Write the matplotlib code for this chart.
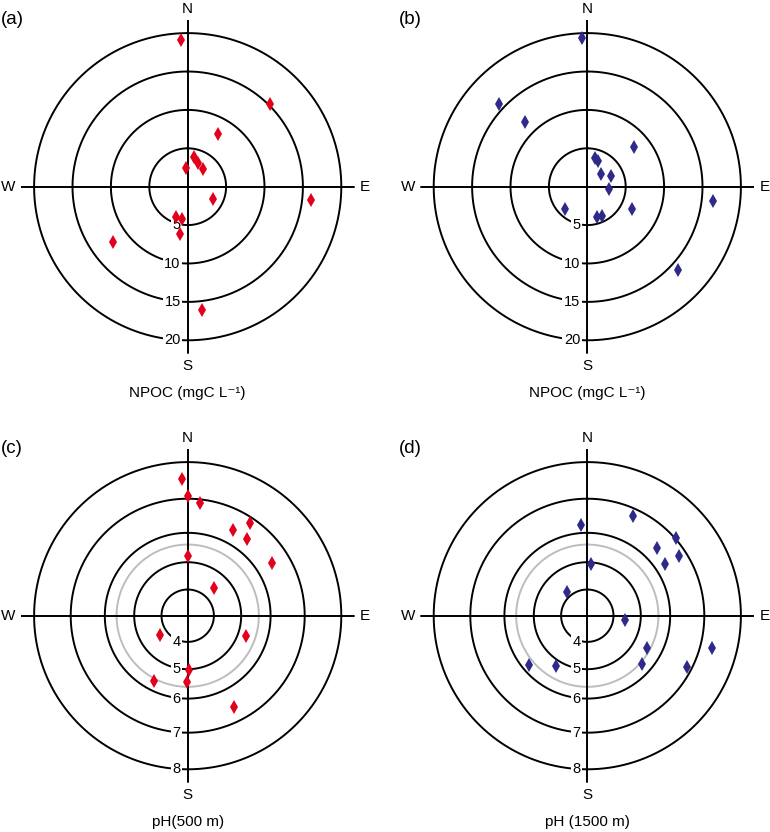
import numpy as np
import matplotlib
matplotlib.use("Agg")
import matplotlib.pyplot as plt

plt.rcParams['font.family'] = ['Liberation Sans', 'DejaVu Sans']

# ---------------- data (bearing in degrees clockwise from N, value) ----------------
a_dir = [357.4, 44.9, 29.8, 12.1, 24.4, 40.8, 355.0, 116.9, 96.3, 201.4, 189.3, 189.1, 233.4, 173.3]
a_npoc = [19.1, 15.2, 7.85, 3.9, 3.35, 3.0, 2.5, 3.65, 16.2, 4.3, 4.3, 6.3, 12.15, 16.1]

b_dir = [358.1, 312.9, 315.9, 49.6, 15.7, 22.0, 48.0, 64.8, 96.8, 116.7, 96.3, 224.6, 161.9, 153.8, 132.7]
b_npoc = [19.4, 15.75, 11.7, 7.95, 3.85, 3.6, 2.4, 3.37, 2.85, 6.47, 16.5, 4.15, 4.19, 4.25, 16.0]

c_dir = [357.6, 0.0, 6.2, 33.8, 27.7, 37.5, 58.3, 0.0, 43.6, 235.0, 109.2, 179.0, 180.3, 207.3, 153.2]
c_ph = [7.53, 7.07, 6.90, 6.85, 6.41, 6.41, 6.49, 5.21, 4.46, 4.28, 5.28, 5.02, 5.42, 5.67, 6.58]

d_dir = [24.7, 355.8, 48.7, 45.6, 57.0, 56.5, 4.1, 318.5, 96.6, 118.6, 131.9, 104.7, 117.0, 212.3, 229.6]
d_ph = [6.80, 6.23, 7.03, 6.42, 6.79, 6.31, 4.94, 4.18, 4.43, 5.50, 5.66, 7.33, 6.86, 5.19, 5.77]

npoc_ticks = [5, 10, 15, 20]
ph_ticks = [4, 5, 6, 7, 8]
ph_ref = 5.6

panel_labels = ['(a)', '(b)', '(c)', '(d)']
x_labels = ['NPOC (mgC L\u207b\u00b9)', 'NPOC (mgC L\u207b\u00b9)', 'pH(500 m)', 'pH (1500 m)']

# ---------------- radial scale for pH rings (non-linear ring spacing) ----------------
PH_K = np.array([0.0, 3.0, 4.0, 5.0, 6.0, 7.0, 8.0, 9.0, 14.0])
PX_K = np.array([-80.0, 0.0, 26.2, 53.5, 82.9, 117.0, 153.6, 192.0, 384.0])

def ph_fwd(v):
    return np.interp(np.asarray(v, dtype=float), PH_K, PX_K)

def ph_inv(p):
    return np.interp(np.asarray(p, dtype=float), PX_K, PH_K)

# ---------------- figure ----------------
W, H = 770, 832
fig = plt.figure(figsize=(W / 100, H / 100), dpi=100)
R = 167.0
centers = [(187.7, 186.7), (587.3, 186.7), (187.7, 615.7), (587.3, 615.7)]
red = '#e3001b'
blue = '#2f2a8a'

panels = [
    (a_dir, a_npoc, red, 'npoc'),
    (b_dir, b_npoc, blue, 'npoc'),
    (c_dir, c_ph, red, 'ph'),
    (d_dir, d_ph, blue, 'ph'),
]

theta_full = np.linspace(0, 2 * np.pi, 721)

for i, (dirs, vals, col, kind) in enumerate(panels):
    cx, cy = centers[i]
    ax = fig.add_axes([(cx - R) / W, (H - cy - R) / H, 2 * R / W, 2 * R / H],
                      projection='polar')
    ax.set_theta_zero_location('N')
    ax.set_theta_direction(-1)
    if kind == 'npoc':
        ticks = npoc_ticks
        rmin, rmax = 0.0, 20.0 * R / 153.6
        ax.set_rlim(rmin, rmax)
    else:
        ticks = ph_ticks
        ax.set_rscale('function', functions=(ph_fwd, ph_inv))
        rmin, rmax = 3.0, float(ph_inv(R))
        ax.set_rlim(rmin, rmax)
    ax.grid(False)
    ax.set_xticks([])
    ax.set_yticks([])
    ax.spines['polar'].set_visible(False)
    ax.patch.set_alpha(0)

    # rings
    for t in ticks:
        ax.plot(theta_full, np.full_like(theta_full, t), color='black', lw=1.4, zorder=2)
    if kind == 'ph':
        ax.plot(theta_full, np.full_like(theta_full, ph_ref), color='#bdbdbd', lw=1.4, zorder=1.9)

    # crosshair
    for th in [0, np.pi / 2, np.pi, 3 * np.pi / 2]:
        ax.plot([th, th], [rmin, rmax], color='black', lw=1.4, zorder=4,
                solid_capstyle='butt')

    # ring labels along the south axis
    for t in ticks:
        ax.annotate(str(t), xy=(np.pi, t), xytext=(-7, 0), textcoords='offset pixels',
                    ha='right', va='center', fontsize=10.5, zorder=3,
                    bbox=dict(facecolor='white', edgecolor='none', pad=1.2),
                    annotation_clip=False)

    # points
    ax.plot(np.deg2rad(dirs), vals, linestyle='none', marker='d', markersize=6.8,
            markerfacecolor=col, markeredgewidth=0, zorder=5, clip_on=False)

    # compass letters
    ax.text(0.5, 1 + 11.0 / (2 * R), 'N', transform=ax.transAxes, ha='center', va='center', fontsize=11)
    ax.text(0.5, -12.5 / (2 * R), 'S', transform=ax.transAxes, ha='center', va='center', fontsize=11)
    ax.text(-5.0 / (2 * R), 0.5, 'W', transform=ax.transAxes, ha='right', va='center', fontsize=11)
    ax.text(1 + 5.0 / (2 * R), 0.5, 'E', transform=ax.transAxes, ha='left', va='center', fontsize=11)

    # x label
    ax.text(0.5, 0.5 - 206 / (2 * R), x_labels[i], transform=ax.transAxes,
            ha='center', va='center', fontsize=11)

# panel labels
label_pos = [(1, 11), (399, 11), (1, 440), (399, 440)]
for lab, (px, py) in zip(panel_labels, label_pos):
    fig.text(px / W, 1 - py / H, lab, ha='left', va='top', fontsize=13.5)

fig.savefig('out.png', dpi=100)
